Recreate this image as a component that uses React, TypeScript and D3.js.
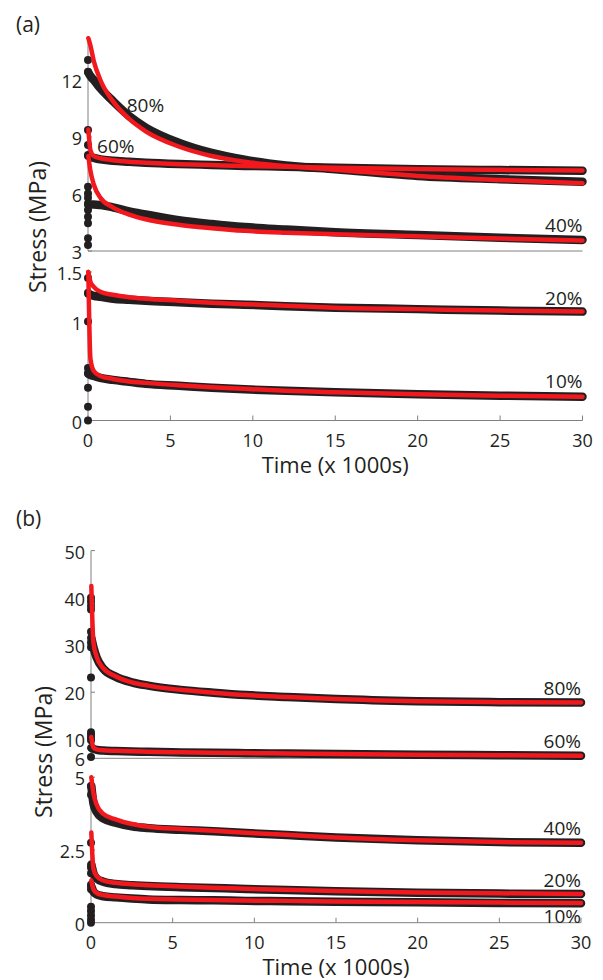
import React from "react";
import * as d3 from "d3";

// ---------- DATA ----------
const tGrid = [0.02, 0.15, 0.35, 0.75, 1.5, 2.5, 3.5, 5.5, 7.5, 9.5, 12, 15, 20, 25, 30];

// Panel (a), upper sub-axis (3 – 14 MPa)
const a80Black = [12.4, 12.2, 12.0, 11.56, 10.9, 10.1, 9.5, 8.7, 8.16, 7.8, 7.5, 7.3, 6.95, 6.78, 6.65];
const a80Red = [14.2, 13.8, 13.0, 12.0, 10.9, 9.95, 9.3, 8.5, 8.0, 7.7, 7.47, 7.28, 6.95, 6.74, 6.56];
const a60Black = [8.0, 7.95, 7.9, 7.82, 7.75, 7.7, 7.65, 7.58, 7.53, 7.48, 7.44, 7.38, 7.3, 7.26, 7.23];
const a60Red = [9.4, 8.3, 8.0, 7.88, 7.78, 7.7, 7.65, 7.57, 7.52, 7.47, 7.43, 7.38, 7.31, 7.27, 7.24];
const a40Black = [5.42, 5.45, 5.45, 5.42, 5.3, 5.08, 4.92, 4.62, 4.42, 4.26, 4.13, 3.99, 3.84, 3.7, 3.58];
const a40Red = [8.0, 7.2, 6.5, 5.8, 5.3, 4.92, 4.67, 4.38, 4.2, 4.06, 3.96, 3.88, 3.77, 3.66, 3.55];
const aUpperDots = [13.05, 12.43, 9.37, 8.58, 8.05, 6.38, 6.03, 5.8, 5.5, 5.16, 4.8, 4.46, 3.67, 3.32];

// Panel (a), lower sub-axis (0 – 1.5 MPa)
const a20Black = [1.28, 1.27, 1.26, 1.25, 1.23, 1.22, 1.21, 1.195, 1.18, 1.17, 1.155, 1.14, 1.125, 1.11, 1.1];
const a20Red = [1.5, 1.4, 1.35, 1.3, 1.27, 1.245, 1.23, 1.21, 1.19, 1.175, 1.16, 1.14, 1.125, 1.11, 1.1];
const a10Black = [0.47, 0.46, 0.45, 0.43, 0.41, 0.39, 0.37, 0.35, 0.33, 0.315, 0.3, 0.285, 0.265, 0.25, 0.24];
const a10Red = [1.5, 0.62, 0.5, 0.45, 0.42, 0.395, 0.38, 0.355, 0.335, 0.32, 0.3, 0.285, 0.265, 0.25, 0.24];
const aLowerDots = [1.44, 1.29, 1.0, 0.53, 0.48, 0.33, 0.14, 0.0];

// Panel (b), upper sub-axis (6 – 50 MPa)
const b80Black = [31.5, 29.5, 27.3, 25.0, 23.3, 22.1, 21.4, 20.5, 19.9, 19.4, 19.0, 18.55, 18.1, 17.9, 17.8];
const b80Red = [42.5, 30.5, 27.5, 25.1, 23.4, 22.1, 21.4, 20.5, 19.9, 19.4, 19.0, 18.55, 18.1, 17.9, 17.8];
const b60Black = [8.2, 8.0, 7.8, 7.65, 7.55, 7.45, 7.38, 7.25, 7.15, 7.08, 7.0, 6.9, 6.75, 6.65, 6.55];
const b60Red = [10.5, 8.3, 7.9, 7.7, 7.58, 7.47, 7.4, 7.27, 7.17, 7.1, 7.02, 6.92, 6.77, 6.67, 6.56];
const bUpperDots = [40, 39.2, 38.3, 37.5, 32.8, 30.5, 29.5, 23.1, 11.5, 11.0, 10.4, 9.8, 6.3];

// Panel (b), lower sub-axis (0 – 5 MPa)
const b40Black = [4.7, 4.1, 3.8, 3.58, 3.44, 3.31, 3.25, 3.19, 3.14, 3.08, 3.01, 2.93, 2.83, 2.77, 2.75];
const b40Red = [5.0, 4.45, 4.05, 3.74, 3.55, 3.39, 3.3, 3.22, 3.16, 3.09, 3.02, 2.93, 2.83, 2.77, 2.75];
const b20Black = [2.0, 1.7, 1.52, 1.41, 1.33, 1.29, 1.26, 1.22, 1.19, 1.16, 1.12, 1.08, 1.03, 1.0, 0.99];
const b20Red = [3.1, 1.85, 1.6, 1.45, 1.37, 1.32, 1.29, 1.24, 1.2, 1.17, 1.13, 1.09, 1.04, 1.01, 0.99];
const b10Black = [1.25, 1.07, 0.97, 0.91, 0.87, 0.83, 0.8, 0.78, 0.77, 0.75, 0.74, 0.72, 0.7, 0.68, 0.67];
const b10Red = [1.45, 1.15, 1.02, 0.95, 0.9, 0.85, 0.82, 0.8, 0.78, 0.76, 0.75, 0.73, 0.71, 0.69, 0.68];
const bLowerDots = [4.7, 4.4, 2.75, 1.9, 1.7, 1.3, 1.15, 0.55, 0.4, 0.25, 0.1, 0.0];

const xTicks = [0, 5, 10, 15, 20, 25, 30];
const aUpperTicks = [3, 6, 9, 12];
const aLowerTicks = [0, 1, 1.5];
const bUpperTicks = [6, 10, 20, 30, 40, 50];
const bLowerTicks = [0, 2.5, 5];

// ---------- STYLE ----------
const FONT = "'Open Sans', 'Noto Sans', sans-serif";
const INK = "#231f20";
const RED = "#f2191e";
const AXIS = "#808080";

type Series = { black: number[]; red: number[]; label: string; lt: number; lv: number; anchor: string };

function Curves({ x, y, series, dots }: { x: any; y: any; series: Series[]; dots: number[] }) {
  const gen = d3
    .line<number>()
    .x((_, i) => x(tGrid[i]))
    .y((d) => y(d))
    .curve(d3.curveMonotoneX);
  return (
    <g>
      {series.map((s, i) => (
        <path key={"b" + i} d={gen(s.black) || ""} fill="none" stroke={INK} strokeWidth={8.5} strokeLinecap="round" strokeLinejoin="round" />
      ))}
      {dots.map((v, i) => (
        <circle key={"d" + i} cx={x(0)} cy={y(v)} r={4} fill={INK} />
      ))}
      {series.map((s, i) => (
        <path key={"r" + i} d={gen(s.red) || ""} fill="none" stroke={RED} strokeWidth={4.5} strokeLinecap="round" strokeLinejoin="round" />
      ))}
      {series.map((s, i) => (
        <text key={"l" + i} x={x(s.lt)} y={y(s.lv)} textAnchor={s.anchor as any} fontSize={19} fill={INK} fontFamily={FONT}>
          {s.label}
        </text>
      ))}
    </g>
  );
}

function YAxis({ x0, y, ticks }: { x0: number; y: any; ticks: number[] }) {
  const [d0, d1] = y.domain();
  return (
    <g>
      <line x1={x0} x2={x0} y1={y(d0)} y2={y(d1)} stroke={AXIS} strokeWidth={1} />
      {ticks.map((t) => (
        <g key={t}>
          <line x1={x0} x2={x0 + 4} y1={y(t)} y2={y(t)} stroke={AXIS} strokeWidth={1} />
          <text x={x0 - 6} y={y(t) + 1} textAnchor="end" dominantBaseline="central" fontSize={18} fill={INK} fontFamily={FONT}>
            {String(t)}
          </text>
        </g>
      ))}
    </g>
  );
}

function Panel({
  tag, tagY, x, yUp, yLow, upTicks, lowTicks, upSeries, lowSeries, upDots, lowDots, titleX, titleY,
}: any) {
  const x0 = x.range()[0];
  const x1 = x.range()[1];
  const divY = yUp(yUp.domain()[0]);
  const baseY = yLow(0);
  return (
    <g>
      <text x={16} y={tagY} fontSize={21} fill={INK} fontFamily={FONT}>{tag}</text>
      <line x1={x0} x2={x1} y1={divY} y2={divY} stroke={AXIS} strokeWidth={1} />
      <line x1={x0} x2={x1} y1={baseY} y2={baseY} stroke={AXIS} strokeWidth={1} />
      {xTicks.map((t) => (
        <g key={t}>
          <line x1={x(t)} x2={x(t)} y1={baseY} y2={baseY - 5} stroke={AXIS} strokeWidth={1} />
          <text x={x(t)} y={baseY + 26} textAnchor="middle" fontSize={18} fill={INK} fontFamily={FONT}>{t}</text>
        </g>
      ))}
      <YAxis x0={x0} y={yUp} ticks={upTicks} />
      <YAxis x0={x0} y={yLow} ticks={lowTicks} />
      <Curves x={x} y={yUp} series={upSeries} dots={upDots} />
      <Curves x={x} y={yLow} series={lowSeries} dots={lowDots} />
      <text x={(x0 + x1) / 2} y={baseY + 52} textAnchor="middle" fontSize={22} fill={INK} fontFamily={FONT}>Time (x 1000s)</text>
      <text transform={`translate(${titleX},${titleY}) rotate(-90)`} textAnchor="middle" dominantBaseline="central" fontSize={23} fill={INK} fontFamily={FONT}>Stress (MPa)</text>
    </g>
  );
}

export default function App() {
  const xA = d3.scaleLinear().domain([0, 30]).range([88, 582.5]);
  const yAUp = d3.scaleLinear().domain([3, 14.2]).range([251, 38.2]);
  const yALow = d3.scaleLinear().domain([0, 1.5]).range([420.5, 272]);
  const xB = d3.scaleLinear().domain([0, 30]).range([91, 581]);
  const yBUp = d3.scaleLinear().domain([6, 50]).range([758.3, 550.6]);
  const yBLow = d3.scaleLinear().domain([0, 5]).range([922.7, 777.2]);

  const aUp: Series[] = [
    { black: a80Black, red: a80Red, label: "80%", lt: 2.35, lv: 10.3, anchor: "start" },
    { black: a60Black, red: a60Red, label: "60%", lt: 0.55, lv: 8.15, anchor: "start" },
    { black: a40Black, red: a40Red, label: "40%", lt: 30, lv: 4.0, anchor: "end" },
  ];
  const aLow: Series[] = [
    { black: a20Black, red: a20Red, label: "20%", lt: 30, lv: 1.167, anchor: "end" },
    { black: a10Black, red: a10Red, label: "10%", lt: 30, lv: 0.33, anchor: "end" },
  ];
  const bUp: Series[] = [
    { black: b80Black, red: b80Red, label: "80%", lt: 30, lv: 19.4, anchor: "end" },
    { black: b60Black, red: b60Red, label: "60%", lt: 30, lv: 8.18, anchor: "end" },
  ];
  const bLow: Series[] = [
    { black: b40Black, red: b40Red, label: "40%", lt: 30, lv: 3.01, anchor: "end" },
    { black: b20Black, red: b20Red, label: "20%", lt: 30, lv: 1.23, anchor: "end" },
    { black: b10Black, red: b10Red, label: "10%", lt: 30, lv: 0.0, anchor: "end" },
  ];

  return (
    <svg width={603} height={980} style={{ position: "absolute", left: 0, top: 0, background: "#fff" }}>
      <rect width={603} height={980} fill="#fff" />
      <Panel tag="(a)" tagY={32} x={xA} yUp={yAUp} yLow={yALow} upTicks={aUpperTicks} lowTicks={aLowerTicks}
        upSeries={aUp} lowSeries={aLow} upDots={aUpperDots} lowDots={aLowerDots} titleX={37} titleY={227} />
      <Panel tag="(b)" tagY={526} x={xB} yUp={yBUp} yLow={yBLow} upTicks={bUpperTicks} lowTicks={bLowerTicks}
        upSeries={bUp} lowSeries={bLow} upDots={bUpperDots} lowDots={bLowerDots} titleX={43} titleY={752} />
    </svg>
  );
}
